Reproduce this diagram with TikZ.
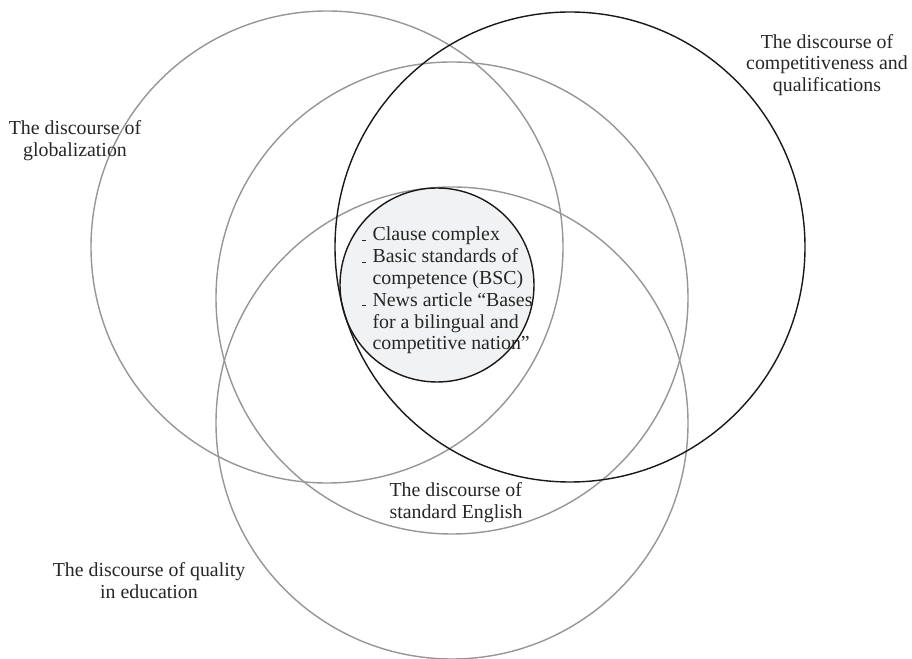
\documentclass[tikz,border=0pt]{standalone}
\usepackage{fontspec}
\setmainfont{Liberation Serif}
\usepackage{xcolor}
\definecolor{ringgray}{RGB}{150,150,150}
\definecolor{corefill}{RGB}{241,242,243}
\newcommand{\dsh}{\rule[0pt]{2.8pt}{0.6pt}}

\begin{document}
\begin{tikzpicture}[
    lbl/.style={font=\fontsize{11.3}{12.4}\selectfont, text=black!85, inner sep=0pt},
    ring/.style={draw=ringgray, line width=0.8pt},
    darkring/.style={draw=black!90, line width=0.8pt}
]
\useasboundingbox (0, 0) rectangle (18.24, 13.16);

% outer discourses
\draw[ring] (6.54, 8.22) circle [radius=4.72];
\draw[ring] (9.04, 7.20) circle [radius=4.72];
\draw[ring] (9.04, 4.70) circle [radius=4.72];

% core
\fill[corefill] (8.74, 7.46) circle [radius=1.94];
\draw[darkring] (11.40, 8.22) circle [radius=4.70];
\draw[darkring] (8.74, 7.46) circle [radius=1.94];

\path (1.50, 10.34) node[lbl, align=center] (glob) {The discourse of\\globalization};
\path (16.54, 11.86) node[lbl, align=center] (comp) {The discourse of\\competitiveness and\\qualifications};
\path (2.98, 1.54) node[lbl, align=center] (qual) {The discourse of quality\\in education};
\path (9.12, 3.10) node[lbl, align=left] (stde) {The discourse of\\standard English};
\path (8.94, 7.34) node[lbl] (core) {%
  \begin{tabular}{@{}l@{\hspace{3.5pt}}l@{}}
  \dsh & Clause complex\\
  \dsh & Basic standards of\\
       & competence (BSC)\\
  \dsh & News article “Bases\\
       & for a bilingual and\\
       & competitive nation”
  \end{tabular}};

\end{tikzpicture}
\end{document}
